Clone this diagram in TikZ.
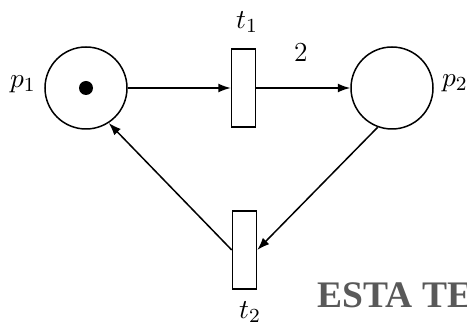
\documentclass[tikz,border=0pt]{standalone}
\usepackage{fontspec}
\newfontfamily\stampfont{Liberation Serif}
\usetikzlibrary{arrows.meta}
\tikzset{
  place/.style={draw,circle,line width=0.6pt,minimum size=32.8pt,inner sep=0pt},
  trans/.style={draw,rectangle,line width=0.6pt,minimum width=9.6pt,minimum height=31.2pt,inner sep=0pt},
  token/.style={circle,fill=black,minimum size=5.6pt,inner sep=0pt},
  lbl/.style={font=\fontsize{11}{13}\selectfont},
  arc/.style={line width=0.6pt,-{Latex[length=5pt,width=3.6pt]}}
}
\begin{document}
\begin{tikzpicture}[x=0.4pt,y=-0.4pt]
    \useasboundingbox (0,0) rectangle (467,325);
    \clip (0,0) rectangle (467,325);
    \node[place] (p1) at (86,88) {};
    \node[token] (m1) at (86,88) {};
    \node[trans] (t1) at (243.5,88) {};
    \node[place] (p2) at (392,88) {};
    \node[trans] (t2) at (244.5,250) {};
    \node[lbl] (lp1) at (23,84) {$p_1$};
    \node[lbl] (lp2) at (455,83) {$p_2$};
    \node[lbl] (lt1) at (247,22) {$t_1$};
    \node[lbl] (lt2) at (250,312) {$t_2$};
    \draw[arc] (p1) -- (t1);
    \draw[arc] (t1) -- node[lbl,above=7pt,xshift=-1pt] (w12) {2} (p2);
    \draw[arc] (p2.250) -- (t2.east);
    \draw[arc] (t2.west) -- (p1.303);
    \node[anchor=base west,inner sep=0pt,text=black!65,
      font=\stampfont\bfseries\fontsize{15}{17}\selectfont] (stamp) at (317,308) {ESTA TESIS};
  \end{tikzpicture}
\end{document}
